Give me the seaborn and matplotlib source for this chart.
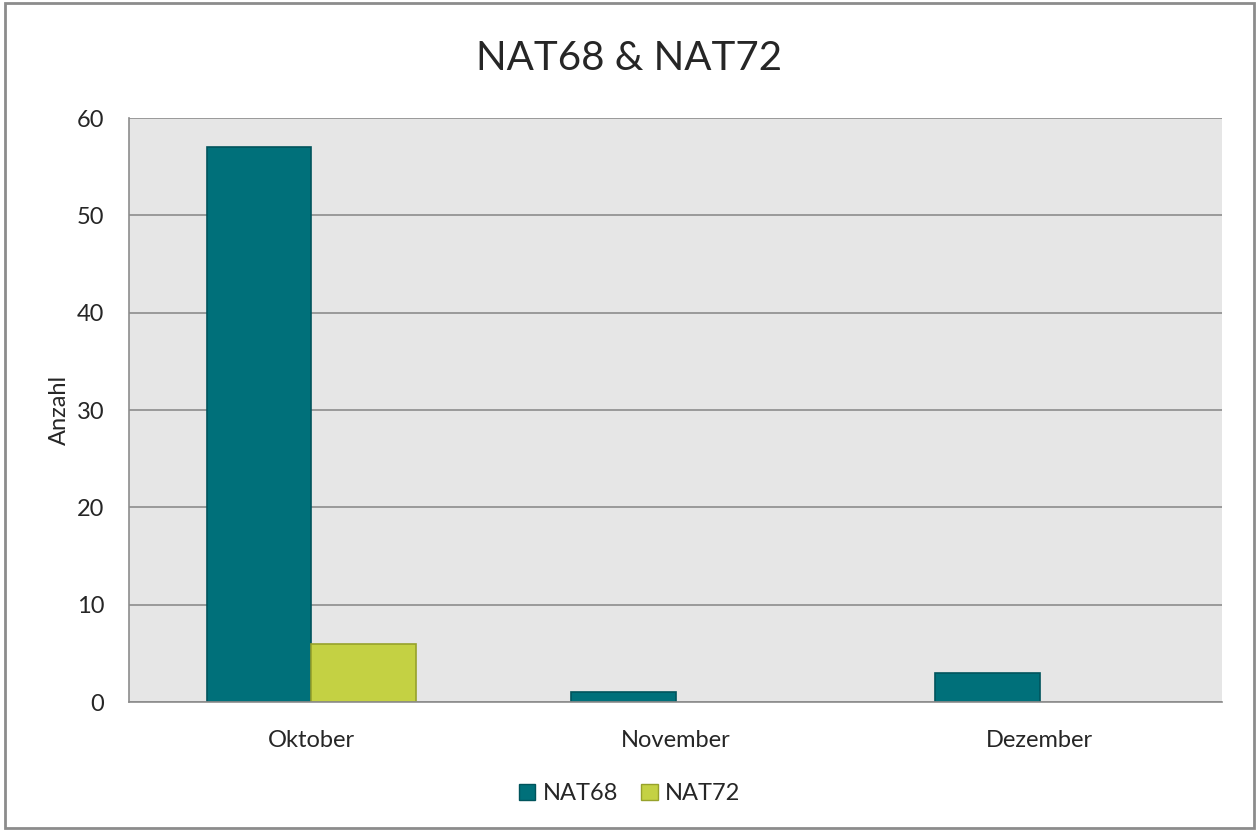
import matplotlib
matplotlib.use("Agg")
import matplotlib.pyplot as plt
import matplotlib.patches as mpatches
import pandas as pd
import seaborn as sns

# data
months = ["Oktober", "November", "Dezember"]
nat68 = [57, 1, 3]
nat72 = [6, 0, 0]
series = ["NAT68", "NAT72"]

colors = {"NAT68": "#00707A", "NAT72": "#C4D143"}
edges = {"NAT68": "#00545C", "NAT72": "#97A22B"}

df = pd.DataFrame({
    "Monat": months * 2,
    "Serie": [series[0]] * 3 + [series[1]] * 3,
    "Anzahl": nat68 + nat72,
})

sns.set_style("white")
plt.rcParams["font.family"] = ["Lato", "DejaVu Sans"]

fig = plt.figure(figsize=(12.59, 8.31), dpi=100)
ax = fig.add_axes([0.1025, 0.1552, 0.8681, 0.7028])
ax.set_facecolor("#E6E6E6")

sns.barplot(data=df, x="Monat", y="Anzahl", hue="Serie", order=months,
            hue_order=series, palette=colors, width=0.574, dodge=True,
            saturation=1, legend=False, ax=ax)

# bar outlines per series, hide zero-height bars
for cont, s in zip(ax.containers, series):
    for bar in cont:
        bar.set_edgecolor(edges[s])
        bar.set_linewidth(1.2)
        if bar.get_height() == 0:
            bar.set_visible(False)

ax.set_ylim(0, 60)
ax.set_yticks(range(0, 61, 10))
ax.set_xlim(-0.5, 2.5)
ax.grid(axis="y", color="#8C8C8C", linewidth=1.2)
ax.set_axisbelow(True)
for side in ["top", "right"]:
    ax.spines[side].set_visible(False)
for side in ["left", "bottom"]:
    ax.spines[side].set_color("#8C8C8C")
    ax.spines[side].set_linewidth(1.2)
ax.tick_params(axis="y", length=8, width=1.2, color="#8C8C8C", labelsize=17, pad=10)
ax.tick_params(axis="x", length=0, labelsize=17, pad=20)

ax.set_xlabel("")
ax.set_ylabel("Anzahl", fontsize=17, labelpad=5)
fig.text(0.5, 0.93, "NAT68 & NAT72", ha="center", va="center", fontsize=29)

handles = [mpatches.Patch(facecolor=colors[s], edgecolor=edges[s], label=s) for s in series]
fig.legend(handles=handles, loc="center", bbox_to_anchor=(0.5, 0.045), ncol=2,
           frameon=False, fontsize=17, handlelength=0.7, handleheight=0.7,
           handletextpad=0.3, columnspacing=1.0)

# outer chart border
fig.patches.append(mpatches.Rectangle((0.004, 0.004), 0.992, 0.992, transform=fig.transFigure,
                                      fill=False, edgecolor="#8C8C8C", linewidth=2))

fig.savefig("out.png", dpi=100)
